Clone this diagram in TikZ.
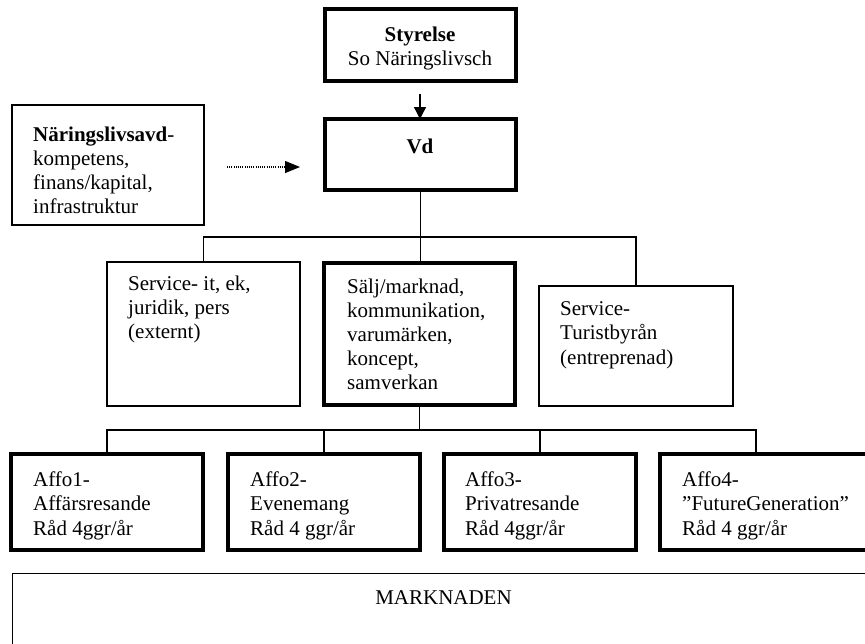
\documentclass[tikz,border=0pt]{standalone}
\usepackage{fontspec}
\setmainfont{Liberation Serif}
\usetikzlibrary{arrows.meta}
\tikzset{
  thickbox/.style={draw, line width=4.5pt, inner sep=0pt, outer sep=0pt},
  thinbox/.style={draw, line width=1.4pt, inner sep=0pt, outer sep=0pt},
  txt/.style={font=\fontsize{21}{24.2}\selectfont, align=left, inner sep=0pt, anchor=north west},
  ctxt/.style={font=\fontsize{21}{24.2}\selectfont, align=center, inner sep=0pt, anchor=north},
  conn/.style={line width=1.3pt},
  tip/.style={-{Triangle[length=12pt,width=12pt]}},
}
\begin{document}
\begin{tikzpicture}[x=1pt,y=-1pt]
\useasboundingbox (0,0) rectangle (865,643);
% boxes
\node[thickbox, minimum width=191pt, minimum height=72pt] (sty) at (420.5,45) {};
\node[thickbox, minimum width=191pt, minimum height=71pt] (vd) at (420.5,154.5) {};
\node[thinbox, minimum width=192pt, minimum height=120pt] (nar) at (108,165) {};
\node[thinbox, minimum width=193pt, minimum height=144pt] (serv) at (203.5,334) {};
\node[thickbox, minimum width=191pt, minimum height=142pt] (salj) at (419.5,334) {};
\node[thinbox, minimum width=194pt, minimum height=120pt] (tur) at (636,346) {};
\node[thickbox, minimum width=192pt, minimum height=96pt] (a1) at (107,502) {};
\node[thickbox, minimum width=192pt, minimum height=96pt] (a2) at (324,502) {};
\node[thickbox, minimum width=192pt, minimum height=96pt] (a3) at (540,502) {};
\node[thickbox, minimum width=210pt, minimum height=96pt] (a4) at (765,502) {};
\node[thinbox, minimum width=857.5pt, minimum height=81.5pt] (mark) at (441.25,614.25) {};
% texts
\node[ctxt] (tsty) at (420,24) {\strut\textbf{Styrelse}\\So Näringslivsch};
\node[ctxt] (tvd) at (420,136) {\strut\textbf{Vd}};
\node[txt] (tnar) at (33,124) {\strut\textbf{Näringslivsavd}-\\kompetens,\\finans/kapital,\\infrastruktur};
\node[txt] (tserv) at (128,273) {\strut Service- it, ek,\\juridik, pers\\(externt)};
\node[txt] (tsalj) at (347,276) {\strut Sälj/marknad,\\kommunikation,\\varumärken,\\koncept,\\samverkan};
\node[txt] (ttur) at (560,298.5) {\strut Service-\\Turistbyrån\\(entreprenad)};
\node[txt] (ta1) at (33,469.5) {\strut Affo1-\\Affärsresande\\Råd 4ggr/år};
\node[txt] (ta2) at (250,469.5) {\strut Affo2-\\Evenemang\\Råd 4 ggr/år};
\node[txt] (ta3) at (465,469.5) {\strut Affo3-\\Privatresande\\Råd 4ggr/år};
\node[txt] (ta4) at (682,469.5) {\strut Affo4-\\”FutureGeneration”\\Råd 4 ggr/år};
\node[font=\fontsize{21}{24.2}\selectfont, inner sep=0pt, anchor=base] (tmark) at (443.5,604) {MARKNADEN};
% connectors
\coordinate (sa) at (420,94);
\draw[conn, tip] (sa) -- (sa |- vd.north);
\coordinate (da) at (227,167);
\coordinate (db) at (300,167);
\draw[line width=1.2pt, dash pattern=on 1pt off 1.2pt, -{Triangle[length=15pt,width=12pt]}] (da) -- (db);
\coordinate (bus1) at (420,237);
\coordinate (bus2) at (420,430);
\coordinate (a4c) at (756,0);
\draw[conn] (vd.south) -- (vd.south |- salj.north);
\draw[conn] (serv.north) |- (bus1) -| (tur.north);
\draw[conn] (salj.south) -- (salj.south |- bus2);
\draw[conn] (a1.north) |- (bus2) -| (a4c |- a4.north);
\draw[conn] (a2.north) -- (a2.north |- bus2);
\draw[conn] (a3.north) -- (a3.north |- bus2);
\end{tikzpicture}
\end{document}
